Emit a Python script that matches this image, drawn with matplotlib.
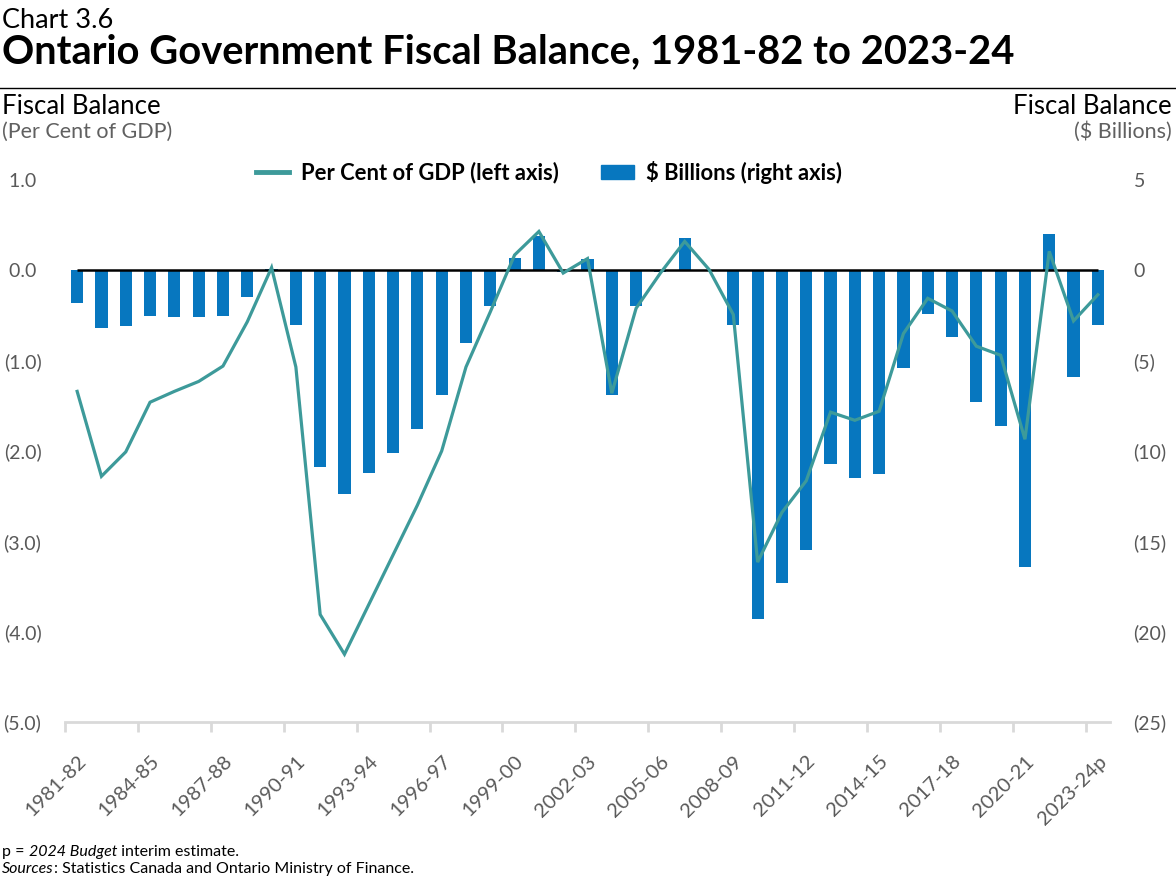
import matplotlib
matplotlib.use("Agg")
import matplotlib.pyplot as plt
from matplotlib.lines import Line2D
from matplotlib.patches import Patch
from matplotlib.ticker import FuncFormatter
import numpy as np

plt.rcParams['font.family'] = ['Lato', 'DejaVu Sans']

# fiscal years 1981-82 .. 2023-24p
years = [f"{y}-{(y + 1) % 100:02d}" for y in range(1981, 2024)]
years[-1] = years[-1] + "p"

# $ billions (right axis)
billions = [-1.8, -3.2, -3.1, -2.5, -2.6, -2.6, -2.5, -1.5, 0.1, -3.0,
            -10.9, -12.4, -11.2, -10.1, -8.8, -6.9, -4.0, -2.0, 0.7, 1.9,
            -0.1, 0.6, -6.9, -2.0, -0.1, 1.8, 0.0, -3.0, -19.3, -17.3,
            -15.5, -10.7, -11.5, -11.3, -5.4, -2.4, -3.7, -7.3, -8.6, -16.4,
            2.0, -5.9, -3.0]

# per cent of GDP (left axis)
pct_gdp = [-1.34, -2.28, -2.01, -1.46, -1.34, -1.23, -1.06, -0.57, 0.03, -1.07,
           -3.81, -4.25, -3.70, -3.15, -2.60, -2.00, -1.07, -0.46, 0.17, 0.43,
           -0.03, 0.13, -1.36, -0.42, -0.03, 0.32, 0.01, -0.49, -3.23, -2.68,
           -2.33, -1.57, -1.66, -1.56, -0.70, -0.31, -0.45, -0.84, -0.94, -1.87,
           0.21, -0.56, -0.27]

BLUE = '#0777BF'
TEAL = '#3D9A9A'
GREY = '#595959'

W, H = 1176, 888
fig = plt.figure(figsize=(W / 100, H / 100), dpi=100)

x = np.arange(len(years))

ax = fig.add_axes([65 / W, 1 - 722 / H, (1110 - 65) / W, (722 - 180) / H])
ax2 = ax.twinx()
ax.set_zorder(ax2.get_zorder() + 1)
ax.patch.set_visible(False)

ax2.bar(x, billions, width=0.5, color=BLUE, zorder=2)
ax.hlines(0, x[0], x[-1], color='black', lw=1.8, zorder=2)
ax.plot(x, pct_gdp, color=TEAL, lw=2.3, zorder=3, solid_joinstyle='miter')

ax.set_xlim(-0.5, len(years) - 0.5)
ax.set_ylim(-5, 1)
ax2.set_ylim(-25, 5)

for a in (ax, ax2):
    for s in a.spines.values():
        s.set_visible(False)
ax.spines['bottom'].set_visible(True)
ax.spines['bottom'].set_color('#D9D9D9')
ax.spines['bottom'].set_linewidth(2)

# y axes
ax.set_yticks(np.arange(-5, 1.01, 1))
ax.yaxis.set_major_formatter(FuncFormatter(
    lambda v, p: f"({abs(v):.1f})" if v < -0.01 else f"{v:.1f} "))
ax.tick_params(axis='y', length=0, pad=17, labelsize=14, labelcolor=GREY)

ax2.set_yticks(np.arange(-25, 5.1, 5))
ax2.yaxis.set_major_formatter(FuncFormatter(
    lambda v, p: f"({abs(v):.0f})" if v < -0.01 else f"{v:.0f}"))
ax2.tick_params(axis='y', length=0, pad=17, labelsize=14, labelcolor=GREY)

# x axis: tick marks on every 3rd boundary, labels on every 3rd year
ax.set_xticks(np.arange(-0.5, len(years) - 1, 3))
ax.set_xticklabels([])
ax.tick_params(axis='x', which='major', length=7, width=2, color='#D9D9D9')
ax.set_xticks(x[::3], minor=True)
ax.set_xticklabels(years[::3], minor=True, rotation=45, ha='right',
                   rotation_mode='anchor', fontsize=14.5, color=GREY)
ax.tick_params(axis='x', which='minor', length=0, pad=22)

# titles
fig.text(2 / W, 1 - 20 / H, "Chart 3.6", fontsize=19.5, va='center', ha='left')
fig.text(2 / W, 1 - 52 / H, "Ontario Government Fiscal Balance, 1981-82 to 2023-24",
         fontsize=28.7, weight='bold', va='center', ha='left')
fig.add_artist(Line2D([0, 1], [1 - 88 / H, 1 - 88 / H], color='black', lw=1))

fig.text(2 / W, 1 - 106 / H, "Fiscal Balance", fontsize=18.5, va='center', ha='left')
fig.text(2 / W, 1 - 132 / H, "(Per Cent of GDP)", fontsize=15.5, color='#606060',
         va='center', ha='left')
fig.text(1 - 4 / W, 1 - 106 / H, "Fiscal Balance", fontsize=18.5, va='center', ha='right')
fig.text(1 - 4 / W, 1 - 132 / H, "($ Billions)", fontsize=15.5, color='#606060',
         va='center', ha='right')

# legend
handles = [Line2D([], [], color=TEAL, lw=3.5), Patch(color=BLUE)]
fig.legend(handles, ["Per Cent of GDP (left axis)", "$ Billions (right axis)"],
           loc='center', bbox_to_anchor=(549 / W, 1 - 172 / H), ncol=2,
           frameon=False, prop={'size': 15.8, 'weight': 'bold'},
           handlelength=1.5, handleheight=0.6, handletextpad=0.55,
           columnspacing=1.9)

# footnotes
t1 = fig.text(2 / W, 1 - 852 / H, "p = ", fontsize=11.5, va='center', ha='left')
t2 = ax.annotate("2024 Budget", xy=(1, 0), xycoords=t1, va='bottom', ha='left',
                 fontsize=11.5, style='italic', annotation_clip=False)
ax.annotate(" interim estimate.", xy=(1, 0), xycoords=t2, va='bottom', ha='left',
            fontsize=11.5, annotation_clip=False)
s1 = fig.text(2 / W, 1 - 869 / H, "Sources", fontsize=11.5, style='italic',
              va='center', ha='left')
ax.annotate(": Statistics Canada and Ontario Ministry of Finance.", xy=(1, 0),
            xycoords=s1, va='bottom', ha='left', fontsize=11.5, annotation_clip=False)

fig.savefig("out.png", dpi=100)
